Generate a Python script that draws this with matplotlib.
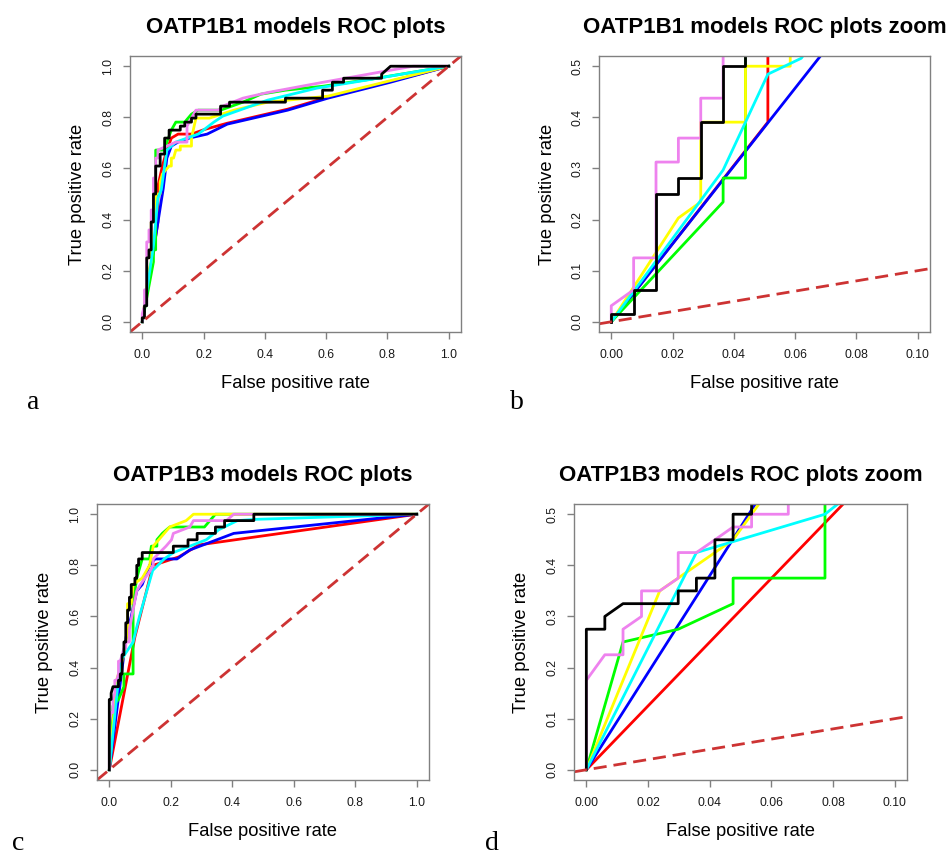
import numpy as np
import matplotlib.pyplot as plt

plt.rcParams['font.family'] = ['Liberation Sans', 'DejaVu Sans']

# OATP1B1 ROC curves (false positive rate, true positive rate)
b1_red_fpr = [0, 0.0511, 0.0511, 0.0657, 0.0803, 0.0949, 0.1168, 0.1606, 0.2044, 0.2774, 0.4745, 0.6058, 0.8102, 1.0]
b1_red_tpr = [0, 0.3906, 0.5313, 0.6094, 0.6719, 0.7188, 0.7344, 0.7344, 0.7530, 0.7770, 0.8320, 0.8790, 0.9410, 1.0]
b1_blue_fpr = [0, 0.0687, 0.0803, 0.0949, 0.1168, 0.1533, 0.2117, 0.2774, 0.4745, 0.6058, 0.8102, 1.0]
b1_blue_tpr = [0, 0.5234, 0.6406, 0.6875, 0.7031, 0.7188, 0.7344, 0.7734, 0.8281, 0.8750, 0.9375, 1.0]
b1_green_fpr = [0, 0.0365, 0.0365, 0.0438, 0.0438, 0.0730, 0.0803, 0.0949, 0.1095, 0.1387, 0.1606, 0.1825,
                0.2555, 0.3285, 0.3869, 0.4672, 0.5912, 0.7500, 1.0]
b1_green_tpr = [0, 0.2344, 0.2813, 0.2813, 0.6719, 0.6719, 0.7031, 0.7500, 0.7813, 0.7813, 0.8125, 0.8281,
                0.8281, 0.8594, 0.8906, 0.9063, 0.9219, 0.9500, 1.0]
b1_yellow_fpr = [0, 0.0219, 0.0292, 0.0292, 0.0438, 0.0438, 0.0584, 0.0584, 0.0657, 0.0876, 0.0949, 0.0949,
                 0.1022, 0.1095, 0.1241, 0.1241, 0.1606, 0.1606, 0.1752, 0.2190, 0.2993, 0.4088, 0.6058, 1.0]
b1_yellow_tpr = [0, 0.2031, 0.2344, 0.3906, 0.3906, 0.5000, 0.5000, 0.5469, 0.5781, 0.6094, 0.6094, 0.6406,
                 0.6406, 0.6719, 0.6719, 0.6875, 0.6875, 0.7188, 0.7969, 0.7969, 0.8281, 0.8594, 0.8828, 1.0]
b1_cyan_fpr = [0, 0.0365, 0.0438, 0.0511, 0.0620, 0.0803, 0.1095, 0.1460, 0.1825, 0.2336, 0.2628, 0.4088,
               0.5693, 0.7299, 1.0]
b1_cyan_tpr = [0, 0.2969, 0.3906, 0.4844, 0.5156, 0.6719, 0.7031, 0.7188, 0.7344, 0.7813, 0.8047, 0.8672,
               0.9141, 0.9453, 1.0]
b1_violet_fpr = [0, 0, 0.0073, 0.0073, 0.0146, 0.0146, 0.0219, 0.0219, 0.0292, 0.0292, 0.0365, 0.0365,
                 0.0438, 0.0438, 0.0511, 0.0511, 0.0803, 0.1095, 0.1460, 0.1460, 0.1606, 0.1752, 0.2482,
                 0.2628, 0.3285, 0.4088, 0.5912, 0.7956, 0.8832, 1.0]
b1_violet_tpr = [0, 0.0313, 0.0625, 0.1250, 0.1250, 0.3125, 0.3125, 0.3594, 0.3594, 0.4375, 0.4375, 0.5625,
                 0.5625, 0.6406, 0.6406, 0.6719, 0.6875, 0.7031, 0.7031, 0.7656, 0.7969, 0.8281, 0.8281,
                 0.8438, 0.8750, 0.8969, 0.9375, 0.9813, 1.0, 1.0]
b1_black_fpr = [0, 0, 0.0073, 0.0073, 0.0146, 0.0146, 0.0219, 0.0219, 0.0292, 0.0292, 0.0365, 0.0365,
                0.0438, 0.0438, 0.0584, 0.0584, 0.0730, 0.0730, 0.0876, 0.0876, 0.1241, 0.1241, 0.1387,
                0.1387, 0.1606, 0.1606, 0.1752, 0.1752, 0.2555, 0.2555, 0.2847, 0.2847, 0.4672, 0.4672,
                0.5884, 0.5884, 0.6204, 0.6204, 0.6569, 0.6569, 0.7810, 0.7810, 0.8102, 1.0]
b1_black_tpr = [0, 0.0156, 0.0156, 0.0625, 0.0625, 0.2500, 0.2500, 0.2813, 0.2813, 0.3906, 0.3906, 0.5000,
                0.5000, 0.6094, 0.6094, 0.6563, 0.6563, 0.7188, 0.7188, 0.7500, 0.7500, 0.7656, 0.7656,
                0.7813, 0.7813, 0.7969, 0.7969, 0.8125, 0.8125, 0.8438, 0.8438, 0.8594, 0.8594, 0.8750,
                0.8750, 0.9063, 0.9063, 0.9375, 0.9375, 0.9531, 0.9531, 0.9688, 1.0, 1.0]

# OATP1B3 ROC curves
b3_red_fpr = [0, 0.0833, 0.1369, 0.1429, 0.2262, 0.2917, 1.0]
b3_red_tpr = [0, 0.5200, 0.7750, 0.8000, 0.8330, 0.8800, 1.0]
b3_blue_fpr = [0, 0.0548, 0.0714, 0.0893, 0.1071, 0.1310, 0.1488, 0.2202, 0.2619, 0.4048, 1.0]
b3_blue_tpr = [0, 0.5200, 0.6000, 0.7000, 0.7250, 0.8000, 0.8250, 0.8250, 0.8600, 0.9250, 1.0]
b3_green_fpr = [0, 0.0119, 0.0298, 0.0476, 0.0476, 0.0774, 0.0774, 0.0833, 0.0893, 0.0952, 0.1012, 0.1071,
                0.1310, 0.1369, 0.1548, 0.1548, 0.1726, 0.1964, 0.3095, 0.3452, 1.0]
b3_green_tpr = [0, 0.250, 0.275, 0.325, 0.375, 0.375, 0.650, 0.700, 0.750, 0.775, 0.800, 0.825,
                0.825, 0.875, 0.875, 0.900, 0.925, 0.950, 0.950, 1.0, 1.0]
b3_yellow_fpr = [0, 0.0238, 0.0417, 0.0476, 0.0536, 0.0595, 0.0595, 0.0714, 0.0774, 0.1071, 0.1190, 0.1310,
                 0.1429, 0.1607, 0.1964, 0.2500, 0.2738, 1.0]
b3_yellow_tpr = [0, 0.350, 0.425, 0.450, 0.500, 0.550, 0.650, 0.650, 0.725, 0.750, 0.775, 0.800,
                 0.875, 0.900, 0.950, 0.975, 1.0, 1.0]
b3_cyan_fpr = [0, 0.0357, 0.0774, 0.0982, 0.1411, 0.1786, 0.2083, 0.2619, 0.3155, 0.3571, 0.4167, 0.4762, 1.0]
b3_cyan_tpr = [0, 0.425, 0.500, 0.600, 0.780, 0.825, 0.850, 0.875, 0.900, 0.940, 0.975, 0.980, 1.0]
b3_violet_fpr = [0, 0, 0.0060, 0.0119, 0.0119, 0.0179, 0.0179, 0.0238, 0.0298, 0.0298, 0.0357, 0.0417,
                 0.0476, 0.0536, 0.0536, 0.0655, 0.0655, 0.0774, 0.0893, 0.1012, 0.1310, 0.1429, 0.1429,
                 0.1845, 0.2024, 0.2083, 0.2619, 0.2738, 0.3810, 0.4048, 1.0]
b3_violet_tpr = [0, 0.175, 0.225, 0.225, 0.275, 0.300, 0.350, 0.350, 0.375, 0.425, 0.425, 0.450,
                 0.475, 0.475, 0.500, 0.500, 0.550, 0.625, 0.700, 0.725, 0.775, 0.800, 0.825,
                 0.875, 0.900, 0.925, 0.950, 0.975, 0.975, 1.0, 1.0]
b3_black_fpr = [0, 0, 0.0060, 0.0060, 0.0119, 0.0298, 0.0298, 0.0357, 0.0357, 0.0417, 0.0417, 0.0476,
                0.0476, 0.0536, 0.0536, 0.0595, 0.0595, 0.0655, 0.0655, 0.0714, 0.0714, 0.0833, 0.0833,
                0.0893, 0.0893, 0.0952, 0.0952, 0.1071, 0.1071, 0.2083, 0.2083, 0.2560, 0.2560, 0.2857,
                0.2857, 0.3452, 0.3452, 0.3750, 0.3750, 0.4702, 0.4702, 1.0]
b3_black_tpr = [0, 0.275, 0.275, 0.300, 0.325, 0.325, 0.350, 0.350, 0.375, 0.375, 0.450, 0.450,
                0.500, 0.500, 0.575, 0.575, 0.625, 0.625, 0.675, 0.675, 0.725, 0.725, 0.750,
                0.750, 0.800, 0.800, 0.825, 0.825, 0.850, 0.850, 0.875, 0.875, 0.900, 0.900,
                0.925, 0.925, 0.950, 0.950, 0.975, 0.975, 1.0, 1.0]

b1_curves = [('red', b1_red_fpr, b1_red_tpr), ('blue', b1_blue_fpr, b1_blue_tpr),
             ('#00ff00', b1_green_fpr, b1_green_tpr), ('yellow', b1_yellow_fpr, b1_yellow_tpr),
             ('cyan', b1_cyan_fpr, b1_cyan_tpr), ('violet', b1_violet_fpr, b1_violet_tpr),
             ('black', b1_black_fpr, b1_black_tpr)]
b3_curves = [('red', b3_red_fpr, b3_red_tpr), ('blue', b3_blue_fpr, b3_blue_tpr),
             ('#00ff00', b3_green_fpr, b3_green_tpr), ('yellow', b3_yellow_fpr, b3_yellow_tpr),
             ('cyan', b3_cyan_fpr, b3_cyan_tpr), ('violet', b3_violet_fpr, b3_violet_tpr),
             ('black', b3_black_fpr, b3_black_tpr)]

full_ticks = [0.0, 0.2, 0.4, 0.6, 0.8, 1.0]
zoom_xticks = [0.00, 0.02, 0.04, 0.06, 0.08, 0.10]
zoom_yticks = [0.0, 0.1, 0.2, 0.3, 0.4, 0.5]

W, H = 951, 857
fig = plt.figure(figsize=(W / 100, H / 100), dpi=100)


def px_axes(left, top, right, bottom):
    return fig.add_axes([left / W, 1 - bottom / H, (right - left) / W, (bottom - top) / H])


def draw_panel(ax, curves, xmax, ymax, xticks, yticks, xfmt, title):
    for col, f, t in curves:
        ax.plot(f, t, color=col, lw=2)
    ax.axline((0, 0), (1, 1), color='#cd3333', lw=2, ls=(0, (4.7, 2.5)))
    ax.set_xlim(-0.04 * xmax, 1.04 * xmax)
    ax.set_ylim(-0.04 * ymax, 1.04 * ymax)
    ax.set_xticks(xticks)
    ax.set_xticklabels([xfmt % v for v in xticks])
    ax.set_yticks(yticks)
    ax.set_yticklabels(['%.1f' % v for v in yticks], rotation=90, va='center')
    for s in ax.spines.values():
        s.set_color('#808080')
        s.set_linewidth(1.0)
    ax.tick_params(direction='out', length=5, width=1, color='#808080',
                   labelsize=8.7, labelcolor='#1a1a1a')
    ax.tick_params(axis='x', pad=7)
    ax.tick_params(axis='y', pad=6.5)
    ax.text(0.5, 1 + 29 / 276, title, transform=ax.transAxes, ha='center', va='center',
            fontsize=16, fontweight='bold')
    ax.text(0.5, -51 / 276, 'False positive rate', transform=ax.transAxes,
            ha='center', va='center', fontsize=13.2)
    ax.text(-52 / 331, 0.5, 'True positive rate', transform=ax.transAxes,
            ha='center', va='center', rotation=90, fontsize=13.2)


ax_a = px_axes(130, 56, 461, 332)
draw_panel(ax_a, b1_curves, 1.0, 1.0, full_ticks, full_ticks, '%.1f', 'OATP1B1 models ROC plots')
ax_b = px_axes(599, 56, 930, 332)
draw_panel(ax_b, b1_curves, 0.1, 0.5, zoom_xticks, zoom_yticks, '%.2f', 'OATP1B1 models ROC plots zoom')
ax_c = px_axes(97, 504, 429, 780)
draw_panel(ax_c, b3_curves, 1.0, 1.0, full_ticks, full_ticks, '%.1f', 'OATP1B3 models ROC plots')
ax_d = px_axes(574, 504, 907, 780)
draw_panel(ax_d, b3_curves, 0.1, 0.5, zoom_xticks, zoom_yticks, '%.2f', 'OATP1B3 models ROC plots zoom')

for lab, x, y in [('a', 27, 409), ('b', 510, 409), ('c', 12, 850), ('d', 485, 850)]:
    fig.text(x / W, 1 - y / H, lab, fontsize=20, family='Liberation Serif', ha='left', va='baseline')

fig.savefig('out.png', dpi=100)
